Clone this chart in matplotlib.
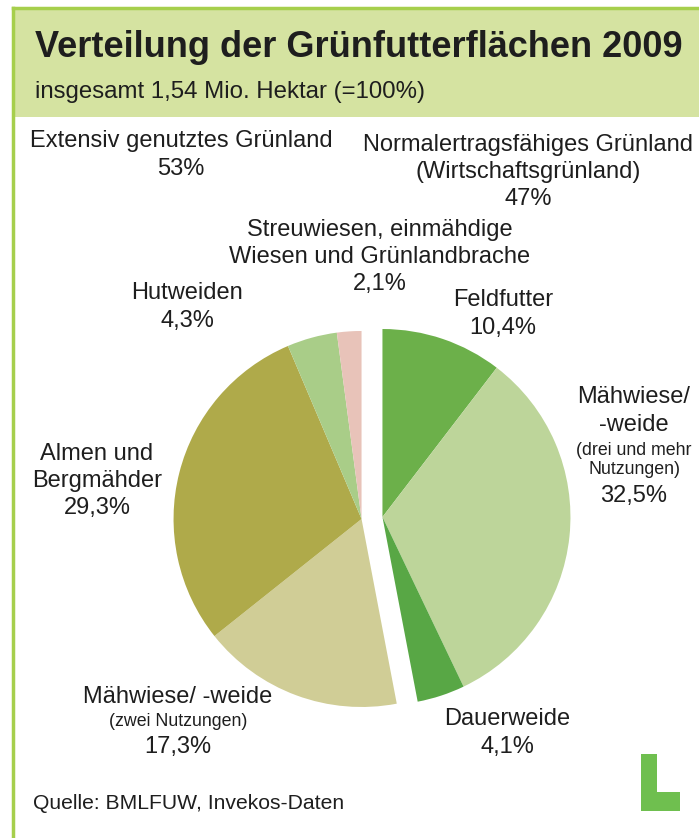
import numpy as np
import matplotlib.pyplot as plt
from matplotlib.patches import Rectangle, Polygon

plt.rcParams['font.family'] = ['Liberation Sans', 'DejaVu Sans']

# Daten (Anteile in % an 1,54 Mio. ha)
normal_labels = ['Feldfutter', 'Mähwiese/ -weide (drei und mehr Nutzungen)', 'Dauerweide']
normal_werte = [10.4, 32.5, 4.1]
normal_farben = ['#6cb04a', '#bdd59a', '#58a745']

extensiv_labels = ['Mähwiese/ -weide (zwei Nutzungen)', 'Almen und Bergmähder', 'Hutweiden',
                   'Streuwiesen, einmähdige Wiesen und Grünlandbrache']
extensiv_werte = [17.3, 29.3, 4.3, 2.1]
extensiv_farben = ['#d0cd96', '#afaa4a', '#a9cd88', '#e8c3b9']

W, H = 699, 838
fig = plt.figure(figsize=(W / 100, H / 100), dpi=100)
ax = fig.add_axes([0, 0, 1, 1])

def Y(y):
    # Pixel von oben -> Datenkoordinate
    return H - y

# Rahmen und Titelfeld
ax.add_patch(Rectangle((13, Y(117)), W, 110, facecolor='#d5e3a1', edgecolor='none', zorder=1))
ax.plot([13, W], [Y(8), Y(8)], color='#a6cf4c', lw=2.5, zorder=2)
ax.plot([13, 13], [Y(8), 0], color='#a6cf4c', lw=2.5, zorder=2)

ax.text(35, Y(48), 'Verteilung der Grünfutterflächen 2009', fontsize=26, fontweight='bold',
        color='#1e1e1e', va='center', ha='left')
ax.text(35, Y(92), 'insgesamt 1,54 Mio. Hektar (=100%)', fontsize=17.3, color='#1e1e1e',
        va='center', ha='left')

# Kreisdiagramm: zwei Gruppen, auseinandergerückt
R = 188
cx, cy = 372, Y(518)
d = 10.5
sum_n = sum(normal_werte)
start_n = 90
mid_n = np.deg2rad(start_n - sum_n / 100 * 360 / 2)
start_e = start_n - sum_n / 100 * 360
mid_e = np.deg2rad(start_e - sum(extensiv_werte) / 100 * 360 / 2)

ax.pie([v / 100 for v in normal_werte], colors=normal_farben, startangle=start_n,
       counterclock=False, normalize=False, radius=R,
       center=(cx + d * np.cos(mid_n), cy + d * np.sin(mid_n)),
       wedgeprops=dict(linewidth=0), frame=True)
ax.pie([v / 100 for v in extensiv_werte], colors=extensiv_farben, startangle=start_e,
       counterclock=False, normalize=False, radius=R,
       center=(cx + d * np.cos(mid_e), cy + d * np.sin(mid_e)),
       wedgeprops=dict(linewidth=0), frame=True)

def pct(v):
    return f'{v:.1f}%'.replace('.', ',')

fs = 17
fs_klein = 12.8
kw = dict(ha='center', va='center', color='#1e1e1e', fontsize=fs, linespacing=1.3)
kw_klein = dict(ha='center', va='center', color='#1e1e1e', fontsize=fs_klein, linespacing=1.2)

ax.text(181, Y(155), 'Extensiv genutztes Grünland\n53%', **kw)
ax.text(528, Y(172), 'Normalertragsfähiges Grünland\n(Wirtschaftsgrünland)\n47%', **kw)
ax.text(380, Y(257), 'Streuwiesen, einmähdige\nWiesen und Grünlandbrache\n' + pct(extensiv_werte[3]), **kw)
ax.text(187, Y(307), 'Hutweiden\n' + pct(extensiv_werte[2]), **kw)
ax.text(503, Y(314), 'Feldfutter\n' + pct(normal_werte[0]), **kw)
ax.text(634, Y(411), 'Mähwiese/\n-weide', **kw)
ax.text(634, Y(460), '(drei und mehr\nNutzungen)', **kw_klein)
ax.text(634, Y(496), pct(normal_werte[1]), **kw)
ax.text(97, Y(481), 'Almen und\nBergmähder\n' + pct(extensiv_werte[1]), **kw)
ax.text(178, Y(697), 'Mähwiese/ -weide', **kw)
ax.text(178, Y(721), '(zwei Nutzungen)', **kw_klein)
ax.text(178, Y(747), pct(extensiv_werte[0]), **kw)
ax.text(507, Y(733), 'Dauerweide\n' + pct(normal_werte[2]), **kw)

ax.text(33, Y(803), 'Quelle: BMLFUW, Invekos-Daten', ha='left', va='center', color='#1e1e1e',
        fontsize=15.2)

# kleines Logo
ax.add_patch(Polygon([(641, Y(754)), (657, Y(754)), (657, Y(792)), (680, Y(792)),
                      (680, Y(811)), (641, Y(811))], closed=True,
                     facecolor='#6fbf4f', edgecolor='none'))

ax.set_xlim(0, W)
ax.set_ylim(0, H)
ax.set_aspect('auto')
ax.axis('off')
fig.savefig('out.png', dpi=100, facecolor='white')
